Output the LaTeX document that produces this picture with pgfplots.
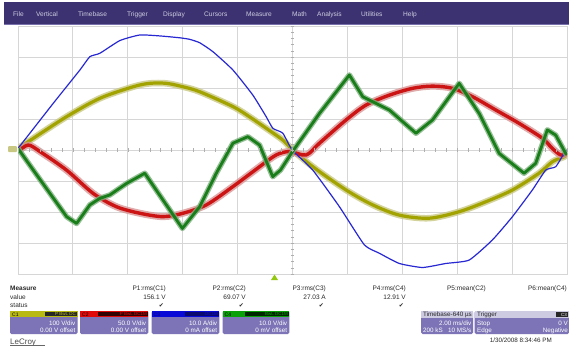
\documentclass[border=0pt]{standalone}
\usepackage{pgfplots}
\pgfplotsset{compat=1.18}
\usepackage{fontspec}
\setmainfont{Liberation Sans}
\newfontfamily\dejavu{DejaVu Sans}
\definecolor{menubg}{RGB}{60,50,114}
\definecolor{menuline}{RGB}{120,112,170}
\definecolor{menutext}{RGB}{205,205,222}
\definecolor{gridgray}{RGB}{214,214,214}
\definecolor{tickgray}{RGB}{175,175,175}
\definecolor{cyel}{RGB}{162,162,0}
\definecolor{cyelh}{RGB}{200,200,130}
\definecolor{cred}{RGB}{205,20,20}
\definecolor{credh}{RGB}{218,150,150}
\definecolor{cblue}{RGB}{40,40,210}
\definecolor{cgreen}{RGB}{25,125,25}
\definecolor{cgreenh}{RGB}{125,175,125}
\definecolor{boxbody}{RGB}{124,116,182}
\definecolor{hdrgray}{RGB}{205,203,226}
\definecolor{h1}{RGB}{185,185,20}
\definecolor{h2}{RGB}{225,10,10}
\definecolor{h3}{RGB}{10,10,215}
\definecolor{h3d}{RGB}{10,10,110}
\definecolor{h4}{RGB}{10,160,10}
\definecolor{txt}{RGB}{40,40,40}
\begin{document}
\begin{tikzpicture}
\useasboundingbox (0,0) rectangle (569pt,346pt);
\fill[white] (0,0) rectangle (569pt,346pt);
% ---------- menu bar ----------
\begin{scope}[shift={(0,346pt)},x=1pt,y=-1pt]
  \fill[menubg] (4,2) rectangle (569,25);
  \draw[menuline,line width=0.8pt] (4,24.6) -- (569,24.6);
  \foreach \t/\xx in {File/13,Vertical/36,Timebase/78,Trigger/127,Display/163,Cursors/204,Measure/246,Math/292,Analysis/317,Utilities/361,Help/403}
    \node[anchor=base west,inner sep=0pt,text=menutext,font=\fontsize{6.6}{7}\selectfont] at (\xx,17) {\t};
\end{scope}
% ---------- scope grid and traces ----------
\begin{axis}[
  at={(18pt,72pt)}, anchor=south west,
  width=549pt, height=248pt, scale only axis,
  xmin=0, xmax=10, ymin=-4, ymax=4,
  xtick={0,1,...,10}, ytick={-4,-3,...,4},
  xticklabels={}, yticklabels={},
  major tick length=0pt,
  grid=major, grid style={draw=gridgray, line width=1pt},
  axis line style={draw=gridgray, line width=1pt},
  clip=true,
]
% C1 yellow
\addplot[cyelh, line width=6.5pt, smooth, tension=0.5, line join=round, opacity=0.8] coordinates {
(0,0.05) (0.279,0.377) (0.885,1.075) (1.491,1.667) (2.097,2.04) (2.4,2.15) (2.703,2.15) (3.005,2.04) (3.309,1.88) (3.915,1.40) (4.218,1.07) (4.522,0.70) (4.824,0.32) (4.994,0.02) (5.37,-0.54) (5.976,-1.29) (6.46,-1.77) (6.945,-2.10) (7.49,-2.20) (8.036,-1.99) (8.521,-1.67) (9.006,-1.29) (9.49,-0.75) (9.733,-0.38) (9.945,-0.22) (10,-0.15)};
\addplot[cyel, line width=3.2pt, smooth, tension=0.5, line join=round] coordinates {
(0,0.05) (0.279,0.377) (0.885,1.075) (1.491,1.667) (2.097,2.04) (2.4,2.15) (2.703,2.15) (3.005,2.04) (3.309,1.88) (3.915,1.40) (4.218,1.07) (4.522,0.70) (4.824,0.32) (4.994,0.02) (5.37,-0.54) (5.976,-1.29) (6.46,-1.77) (6.945,-2.10) (7.49,-2.20) (8.036,-1.99) (8.521,-1.67) (9.006,-1.29) (9.49,-0.75) (9.733,-0.38) (9.945,-0.22) (10,-0.15)};
% C2 red
\addplot[credh, line width=7pt, smooth, tension=0.5, line join=round, opacity=0.8] coordinates {
(0,-0.05) (0.187,0.16) (0.4,-0.05) (0.885,-0.65) (1.369,-1.40) (1.794,-1.83) (2.218,-2.04) (2.642,-2.15) (3.005,-2.04) (3.431,-1.77) (3.915,-1.18) (4.4,-0.54) (4.703,-0.16) (4.945,-0.05) (5.249,-0.16) (5.491,0.22) (5.976,0.97) (6.34,1.45) (6.764,1.77) (7.188,1.99) (7.551,2.06) (7.915,1.99) (8.278,1.72) (8.703,1.29) (9.127,0.86) (9.551,0.38) (9.733,0.05) (9.885,-0.16) (10,-0.1)};
\addplot[cred, line width=3.4pt, smooth, tension=0.5, line join=round] coordinates {
(0,-0.05) (0.187,0.16) (0.4,-0.05) (0.885,-0.65) (1.369,-1.40) (1.794,-1.83) (2.218,-2.04) (2.642,-2.15) (3.005,-2.04) (3.431,-1.77) (3.915,-1.18) (4.4,-0.54) (4.703,-0.16) (4.945,-0.05) (5.249,-0.16) (5.491,0.22) (5.976,0.97) (6.34,1.45) (6.764,1.77) (7.188,1.99) (7.551,2.06) (7.915,1.99) (8.278,1.72) (8.703,1.29) (9.127,0.86) (9.551,0.38) (9.733,0.05) (9.885,-0.16) (10,-0.1)};
% C3 blue
\addplot[cblue, line width=1.2pt, smooth, tension=0.3, line join=round] coordinates {
(0,0.05) (0.642,1.506) (1.127,2.58) (1.309,3.01) (1.491,3.12) (1.855,3.53) (2.218,3.71) (2.582,3.68) (2.945,3.62) (3.127,3.57) (3.309,3.46) (3.551,3.17) (3.915,2.58) (4.278,1.77) (4.522,1.07) (4.642,0.70) (4.824,0.54) (4.994,0.0) (5.37,-0.65) (5.855,-1.83) (6.309,-3.06) (6.582,-3.33) (6.945,-3.66) (7.369,-3.79) (7.794,-3.66) (8.218,-3.55) (8.642,-2.90) (9.006,-2.15) (9.369,-1.29) (9.612,-0.65) (9.794,-0.54) (9.945,-0.11) (10,0.0)};
% C4 green
\addplot[cgreenh, line width=5.5pt, line join=round, opacity=0.8] coordinates {
(0,0.05) (0.279,-0.65) (0.582,-1.40) (0.885,-2.15) (1.067,-2.37) (1.309,-1.77) (1.491,-1.56) (1.673,-1.45) (1.976,-1.08) (2.309,-0.75) (2.994,-2.53) (3.309,-1.83) (3.612,-0.75) (3.915,0.22) (4.188,0.43) (4.4,0.16) (4.64,-0.86) (4.78,-0.65) (5.0,-0.05) (5.491,1.18) (6.036,2.42) (6.279,1.72) (6.582,1.45) (6.764,1.29) (7.249,0.54) (7.551,0.97) (8.036,2.15) (8.4,1.18) (8.764,-0.11) (9.218,-0.75) (9.43,-0.43) (9.642,0.65) (9.794,0.48) (9.976,-0.11) (10,-0.15)};
\addplot[cgreen, line width=2.8pt, line join=round] coordinates {
(0,0.05) (0.279,-0.65) (0.582,-1.40) (0.885,-2.15) (1.067,-2.37) (1.309,-1.77) (1.491,-1.56) (1.673,-1.45) (1.976,-1.08) (2.309,-0.75) (2.994,-2.53) (3.309,-1.83) (3.612,-0.75) (3.915,0.22) (4.188,0.43) (4.4,0.16) (4.64,-0.86) (4.78,-0.65) (5.0,-0.05) (5.491,1.18) (6.036,2.42) (6.279,1.72) (6.582,1.45) (6.764,1.29) (7.249,0.54) (7.551,0.97) (8.036,2.15) (8.4,1.18) (8.764,-0.11) (9.218,-0.75) (9.43,-0.43) (9.642,0.65) (9.794,0.48) (9.976,-0.11) (10,-0.15)};
\end{axis}
% ---------- overlays in pixel coordinates ----------
\begin{scope}[shift={(0,346pt)},x=1pt,y=-1pt]
  % centre-line minor ticks
  \foreach \i in {0,...,50} \draw[tickgray,line width=0.5pt] ({18+\i*10.98},148.3) -- ({18+\i*10.98},151.7);
  \foreach \i in {0,...,40} \draw[tickgray,line width=0.5pt] (290.8,{26+\i*6.2}) -- (294.2,{26+\i*6.2});
  % channel marker and trigger marker
  \fill[cyelh,rounded corners=1pt] (8,146) rectangle (17,152);
  \fill[h1!80!green] (271,280) -- (274.5,274.5) -- (278,280) -- cycle;
  % measure table
  \begin{scope}[font=\fontsize{6.5}{7.5}\selectfont, every node/.style={inner sep=0pt, text=txt}]
    \node[anchor=base west,font=\fontsize{6.5}{7.5}\selectfont\bfseries] at (10,290) {Measure};
    \node[anchor=base west] at (10,299) {value};
    \node[anchor=base west] at (10,307.5) {status};
    \foreach \h/\v/\xx in {P1:rms(C1)/156.1 V/166,P2:rms(C2)/69.07 V/246,P3:rms(C3)/27.03 A/326,P4:rms(C4)/12.91 V/406}{
      \node[anchor=base east] at (\xx,290) {\h};
      \node[anchor=base east] at (\xx,299) {\v};
      \node[anchor=base east,font=\dejavu\fontsize{6}{7}\selectfont] at (\xx-2,307) {✔};
    }
    \node[anchor=base east] at (486,290) {P5:mean(C2)};
    \node[anchor=base east] at (567,290) {P6:mean(C4)};
  \end{scope}
  % channel boxes
  \begin{scope}[every node/.style={inner sep=0pt}, font=\fontsize{6.3}{7}\selectfont]
    % C1
    \fill[boxbody,rounded corners=1.5pt] (10,311) rectangle (77.5,334);
    \fill[h1] (10,311) rectangle (77.5,317);
    \fill[black!85] (45,311.6) rectangle (77,316.4);
    \node[anchor=base west,text=black,font=\fontsize{5}{5}\selectfont] at (12,316) {C1};
    \node[anchor=base east,text=h1,font=\fontsize{4.5}{5}\selectfont] at (76,315.8) {P BwL DC};
    \node[anchor=base east,text=white] at (75.5,325.5) {100 V/div};
    \node[anchor=base east,text=white] at (75.5,332.5) {0.00 V offset};
    % C2
    \fill[boxbody,rounded corners=1.5pt] (80,311) rectangle (148.3,334);
    \fill[h2] (80,311) rectangle (148.3,317);
    \fill[black!80!red] (98,311.6) rectangle (148,316.4);
    \node[anchor=base west,text=black,font=\fontsize{5}{5}\selectfont] at (82,316) {C2};
    \node[anchor=base east,text=h2,font=\fontsize{4.5}{5}\selectfont] at (147,315.8) {P BwL DC1M};
    \node[anchor=base east,text=white] at (146.3,325.5) {50.0 V/div};
    \node[anchor=base east,text=white] at (146.3,332.5) {0.00 V offset};
    % C3
    \fill[boxbody,rounded corners=1.5pt] (151.7,311) rectangle (219.3,334);
    \fill[h3] (151.7,311) rectangle (219.3,317);
    \fill[h3d] (185,311.6) rectangle (219,316.4);
    \node[anchor=base west,text=h3d,font=\fontsize{5}{5}\selectfont] at (153.5,316) {C3};
    \node[anchor=base east,text=h3,font=\fontsize{4.5}{5}\selectfont] at (218,315.8) {DC1M};
    \node[anchor=base east,text=white] at (217.3,325.5) {10.0 A/div};
    \node[anchor=base east,text=white] at (217.3,332.5) {0 mA offset};
    % C4
    \fill[boxbody,rounded corners=1.5pt] (222.7,311) rectangle (289.3,334);
    \fill[h4] (222.7,311) rectangle (289.3,317);
    \fill[black!85!green] (245,311.6) rectangle (289,316.4);
    \node[anchor=base west,text=black,font=\fontsize{5}{5}\selectfont] at (224.5,316) {C4};
    \node[anchor=base east,text=h4,font=\fontsize{4.5}{5}\selectfont] at (288,315.8) {BwL DC1M};
    \node[anchor=base east,text=white] at (287.3,325.5) {10.0 V/div};
    \node[anchor=base east,text=white] at (287.3,332.5) {0 mV offset};
    % Timebase
    \fill[boxbody,rounded corners=1.5pt] (421,311) rectangle (473,334);
    \fill[hdrgray] (421,311) rectangle (473,318);
    \node[anchor=base west,text=txt] at (423,316.5) {Timebase};
    \node[anchor=base east,text=txt] at (472,316.5) {-640 µs};
    \node[anchor=base east,text=white] at (471.5,325) {2.00 ms/div};
    \node[anchor=base west,text=white] at (423,332.5) {200 kS};
    \node[anchor=base east,text=white] at (471.5,332.5) {10 MS/s};
    % Trigger
    \fill[boxbody,rounded corners=1.5pt] (474.5,311) rectangle (569,334);
    \fill[hdrgray] (474.5,311) rectangle (569,318);
    \fill[black!85] (556,311.8) rectangle (568,317.2);
    \node[anchor=base west,text=txt] at (477,316.5) {Trigger};
    \node[anchor=base east,text=white,font=\fontsize{4.5}{5}\selectfont] at (567,316) {C3};
    \node[anchor=base west,text=white] at (477,325) {Stop};
    \node[anchor=base east,text=white] at (568,325) {0 V};
    \node[anchor=base west,text=white] at (477,332.5) {Edge};
    \node[anchor=base east,text=white] at (568,332.5) {Negative};
    % footer
    \node[anchor=base west,text=black!70,font=\fontsize{8}{9}\selectfont] at (10,344) {LeCroy};
    \draw[black!60,line width=0.6pt] (10,345.2) -- (45,345.2);
    \node[anchor=base east,text=txt,font=\fontsize{6.3}{7}\selectfont] at (552,342.5) {1/30/2008 8:34:46 PM};
  \end{scope}
\end{scope}
\end{tikzpicture}
\end{document}
